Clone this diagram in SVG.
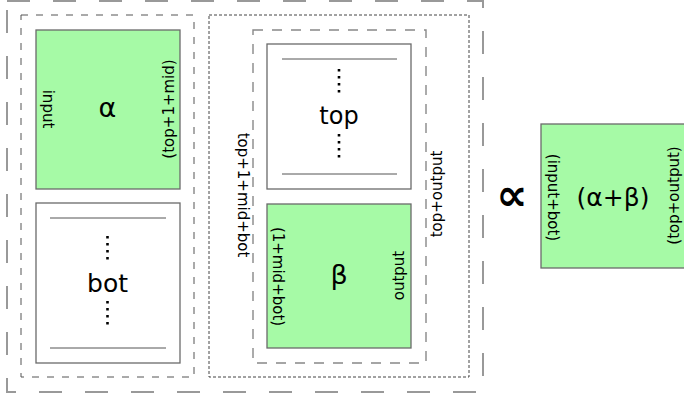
<svg xmlns="http://www.w3.org/2000/svg" width="684" height="396" viewBox="0 0 684 396">
<style>
text{font-family:"DejaVu Sans","Liberation Sans",sans-serif;fill:#000}
.lbl{font-size:15px;text-anchor:middle}
.big{font-size:27px;text-anchor:middle}
.green{fill:#a6faa6;stroke:#6a6a6a;stroke-width:1.3}
.white{fill:#fff;stroke:#6a6a6a;stroke-width:1.3}
.rule{stroke:#555;stroke-width:1}
.dots{stroke:#000;stroke-width:2.6;stroke-dasharray:2.6 4.4}
.frame{fill:none}
</style>
<rect width="684" height="396" fill="#fff"/>
<g id="outer-frame">
<rect class="frame" x="7" y="1" width="476" height="391" stroke="#999" stroke-width="2" stroke-dasharray="23 23"/>
</g>
<g id="left-group">
<rect class="frame" x="21" y="15" width="173" height="362" stroke="#555" stroke-width="1" stroke-dasharray="7 8"/>
</g>
<g id="right-group">
<rect class="frame" x="209" y="15" width="260" height="362" stroke="#444" stroke-width="1" stroke-dasharray="3 2"/>
<text class="lbl" transform="translate(238,195) rotate(90)">top+1+mid+bot</text>
<text class="lbl" transform="translate(442,194) rotate(-90)">top+output</text>
</g>
<g id="right-inner">
<rect class="frame" x="253" y="30" width="173" height="333" stroke="#888" stroke-width="1.4" stroke-dasharray="10 9"/>
</g>
<g id="alpha">
<rect class="green" x="36" y="30" width="144" height="159"/>
<text class="big" x="107.5" y="117">α</text>
<text class="lbl" transform="translate(43,109) rotate(90)">input</text>
<text class="lbl" transform="translate(174,109) rotate(-90)">(top+1+mid)</text>
</g>
<g id="bot">
<rect class="white" x="36" y="203" width="144" height="160"/>
<line class="rule" x1="50" y1="218" x2="166" y2="218"/>
<line class="rule" x1="50" y1="348" x2="166" y2="348"/>
<line class="dots" x1="107.5" y1="236" x2="107.5" y2="262"/>
<line class="dots" x1="107.5" y1="301" x2="107.5" y2="327"/>
<text class="big" x="107.5" y="292" style="font-size:25px">bot</text>
</g>
<g id="top">
<rect class="white" x="267" y="44" width="144" height="145"/>
<line class="rule" x1="282" y1="59" x2="397" y2="59"/>
<line class="rule" x1="282" y1="174" x2="397" y2="174"/>
<line class="dots" x1="339" y1="69" x2="339" y2="95"/>
<line class="dots" x1="339" y1="134" x2="339" y2="160"/>
<text class="big" x="339" y="124" style="font-size:24px">top</text>
</g>
<g id="beta">
<rect class="green" x="267" y="204" width="144" height="144"/>
<text class="big" x="339" y="284">β</text>
<text class="lbl" transform="translate(273,276.5) rotate(90)">(1+mid+bot)</text>
<text class="lbl" transform="translate(404,275.5) rotate(-90)">output</text>
</g>
<g id="connectors">
<text x="512" y="210" style="font-size:44px;font-weight:bold;text-anchor:middle">∝</text>
</g>
<g id="sum">
<rect class="green" x="541" y="124" width="160" height="144"/>
<text class="big" x="613" y="206" style="font-size:25px">(α+β)</text>
<text class="lbl" transform="translate(548,197.5) rotate(90)">(input+bot)</text>
<text class="lbl" transform="translate(679,195.5) rotate(-90)">(top+output)</text>
</g>
</svg>
